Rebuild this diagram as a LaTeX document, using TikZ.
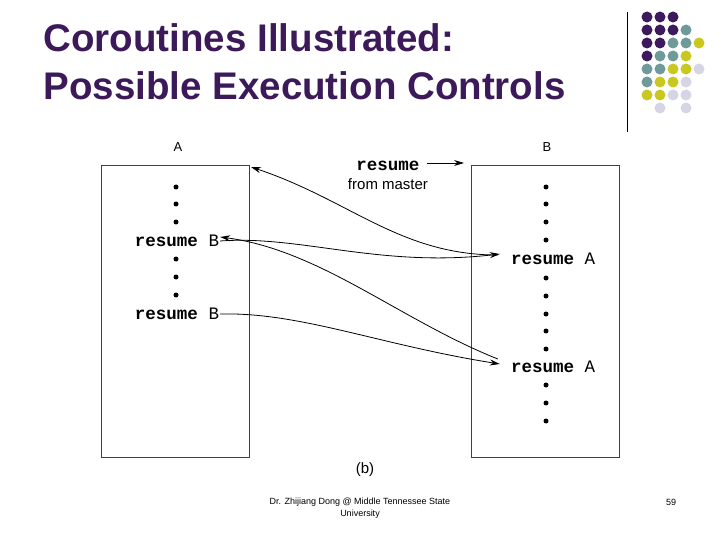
\documentclass[tikz,border=0pt]{standalone}
\usepackage{fontspec}
\setmainfont{Liberation Sans}
\newfontfamily\mono{Liberation Mono}
\usetikzlibrary{arrows.meta}
\definecolor{ttl}{HTML}{3C1A5A}
\definecolor{cP}{HTML}{3D1A5E}
\definecolor{cT}{HTML}{6F9A9A}
\definecolor{cY}{HTML}{C8C820}
\definecolor{cL}{HTML}{D5D5E5}
\begin{document}
\begin{tikzpicture}[x=1pt,y=-1pt,
  box/.style={draw=black!75,line width=0.8pt},
  dot/.style={circle,fill=black,inner sep=0pt,minimum size=5pt},
  code/.style={font=\mono\fontsize{17.5}{17.5}\selectfont,inner sep=1pt},
  conn/.style={-{Stealth[length=10pt,width=6pt]},line width=0.8pt},
  gd/.style={circle,inner sep=0pt,minimum size=11pt}]
\useasboundingbox (0,0) rectangle (720,540);
\node[anchor=west,text=ttl,font=\bfseries\fontsize{38.5}{48}\selectfont,align=left] (title) at (40,62) {Coroutines Illustrated:\\Possible Execution Controls};
\draw[line width=0.8pt] (627,12) -- (627,132);
\foreach \r/\row in {0/{P,P,P},1/{P,P,P,T},2/{P,P,T,T,Y},3/{P,T,T,Y},4/{T,T,Y,Y,L},5/{T,Y,Y,L},6/{Y,Y,L,L}}{
  \foreach \c [count=\i from 0] in \row {\node[gd,fill=c\c] at (647+13*\i,17+13*\r) {};}}
\node[gd,fill=cL] at (660,108) {};
\node[gd,fill=cL] at (686,108) {};
% boxes
\draw[box] (101,165) rectangle (249,457);
\draw[box] (471,165) rectangle (619,457);
\node (la) at (178,147) {\fontsize{13}{13}\selectfont A};
\node (lb) at (547,147) {\fontsize{13}{13}\selectfont B};
\foreach \y in {187,204,222,259,277,295} \node[dot] at (176,\y) {};
\foreach \y in {187,204,222,240,278,296,314,331,349,385,403,421} \node[dot] at (546,\y) {};
\node[code] (rb1) at (177,241) {\textbf{resume} B};
\node[code] (rb2) at (177,314) {\textbf{resume} B};
\node[code] (ra1) at (553,259) {\textbf{resume} A};
\node[code] (ra2) at (553,367) {\textbf{resume} A};
\coordinate (atop) at (251,167);
\node[code] (rm) at (388,166) {\textbf{resume}};
\node[inner sep=0pt] (fm) at (388,184) {\fontsize{15}{15}\selectfont from master};
\coordinate (mend) at (464,163);
\draw[conn] (rm.east) ++(6,-3) -- (mend);
\draw[conn] (ra1.west) ++(-12,-4) .. controls (400,255) and (350,200) .. (atop);
\draw[conn] (rb1.east) .. controls (300,235) and (380,268) .. ([xshift=-10pt,yshift=5pt]ra1.west);
\draw[conn] (ra2.west) ++(-12,-8) .. controls (400,320) and (320,250) .. ([yshift=4pt]rb1.east);
\draw[conn] (rb2.east) .. controls (300,312) and (380,345) .. ([xshift=-10pt,yshift=3pt]ra2.west);
\node (b) at (365,470) {\fontsize{15}{15}\selectfont (b)};
\node[align=center,font=\fontsize{9}{12}\selectfont] (foot) at (360,508) {Dr. Zhijiang Dong @ Middle Tennessee State\\University};
\node[font=\fontsize{9}{12}\selectfont] (pg) at (671,502) {59};
\end{tikzpicture}
\end{document}
